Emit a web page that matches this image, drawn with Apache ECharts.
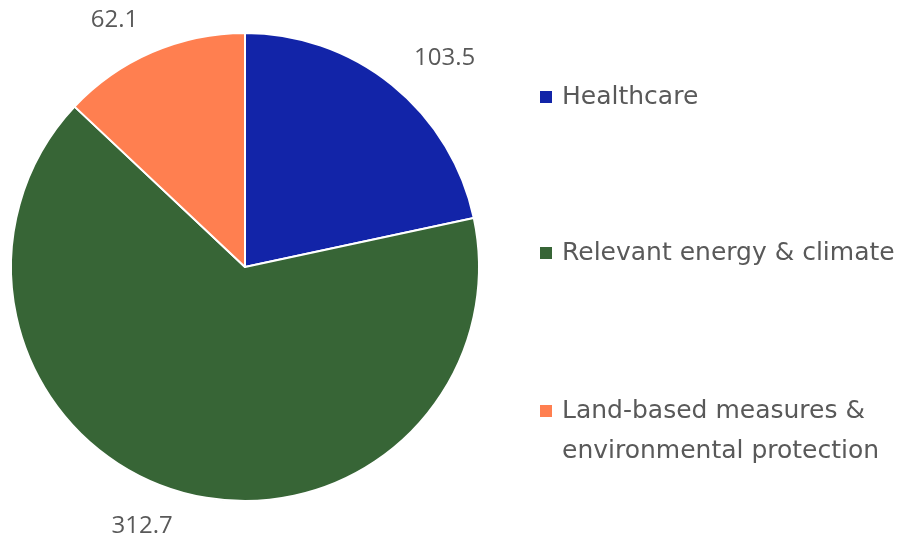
<!DOCTYPE html>
<html>
<head>
<meta charset="utf-8">
<script src="https://cdn.jsdelivr.net/npm/echarts@6/dist/echarts.min.js"></script>
<style>
  html, body { margin: 0; padding: 0; background: #ffffff; }
  #chart { width: 906px; height: 538px; }
</style>
</head>
<body>
<div id="chart"></div>
<script>
// Spending by area
const categories = ['Healthcare', 'Relevant energy & climate', 'Land-based measures & environmental protection'];
const values = [103.5, 312.7, 62.1];
// a leading blank line keeps the marker level with the first line of a wrapped label
const legendLabels = ['Healthcare', 'Relevant energy & climate', '\nLand-based measures &\nenvironmental protection'];
const colors = ['#1224A8', '#376536', '#FF7F50'];

const TEXT_COLOR = '#595959';

const chart = echarts.init(document.getElementById('chart'), null, { renderer: 'canvas' });

// one legend block per category so each sits at its own height
const legendTops = [77, 233, 351];
const legends = categories.map((name, i) => ({
  orient: 'vertical',
  left: 538,
  top: legendTops[i],
  padding: 0,
  icon: 'rect',
  itemWidth: 14,
  itemHeight: 14,
  selectedMode: false,
  data: [name],
  formatter: () => legendLabels[i],
  textStyle: {
    fontFamily: 'DejaVu Sans',
    fontSize: 25,
    color: TEXT_COLOR,
    lineHeight: 40,
    padding: [0, 0, 0, 4]
  }
}));

chart.setOption({
  backgroundColor: '#ffffff',
  animation: false,
  legend: legends,
  series: [{
    type: 'pie',
    center: [245, 267],
    radius: 234,
    startAngle: 90,
    clockwise: true,
    avoidLabelOverlap: false,
    data: categories.map((name, i) => ({
      name,
      value: values[i],
      itemStyle: { color: colors[i] }
    })),
    itemStyle: { borderColor: '#ffffff', borderWidth: 2 },
    label: {
      show: true,
      position: 'outside',
      formatter: p => p.value.toFixed(1),
      fontFamily: 'Open Sans',
      fontSize: 24,
      color: TEXT_COLOR,
      distanceToLabelLine: 0
    },
    labelLine: { show: false, length: 35, length2: 0 },
    emphasis: { disabled: true }
  }]
});
</script>
</body>
</html>
